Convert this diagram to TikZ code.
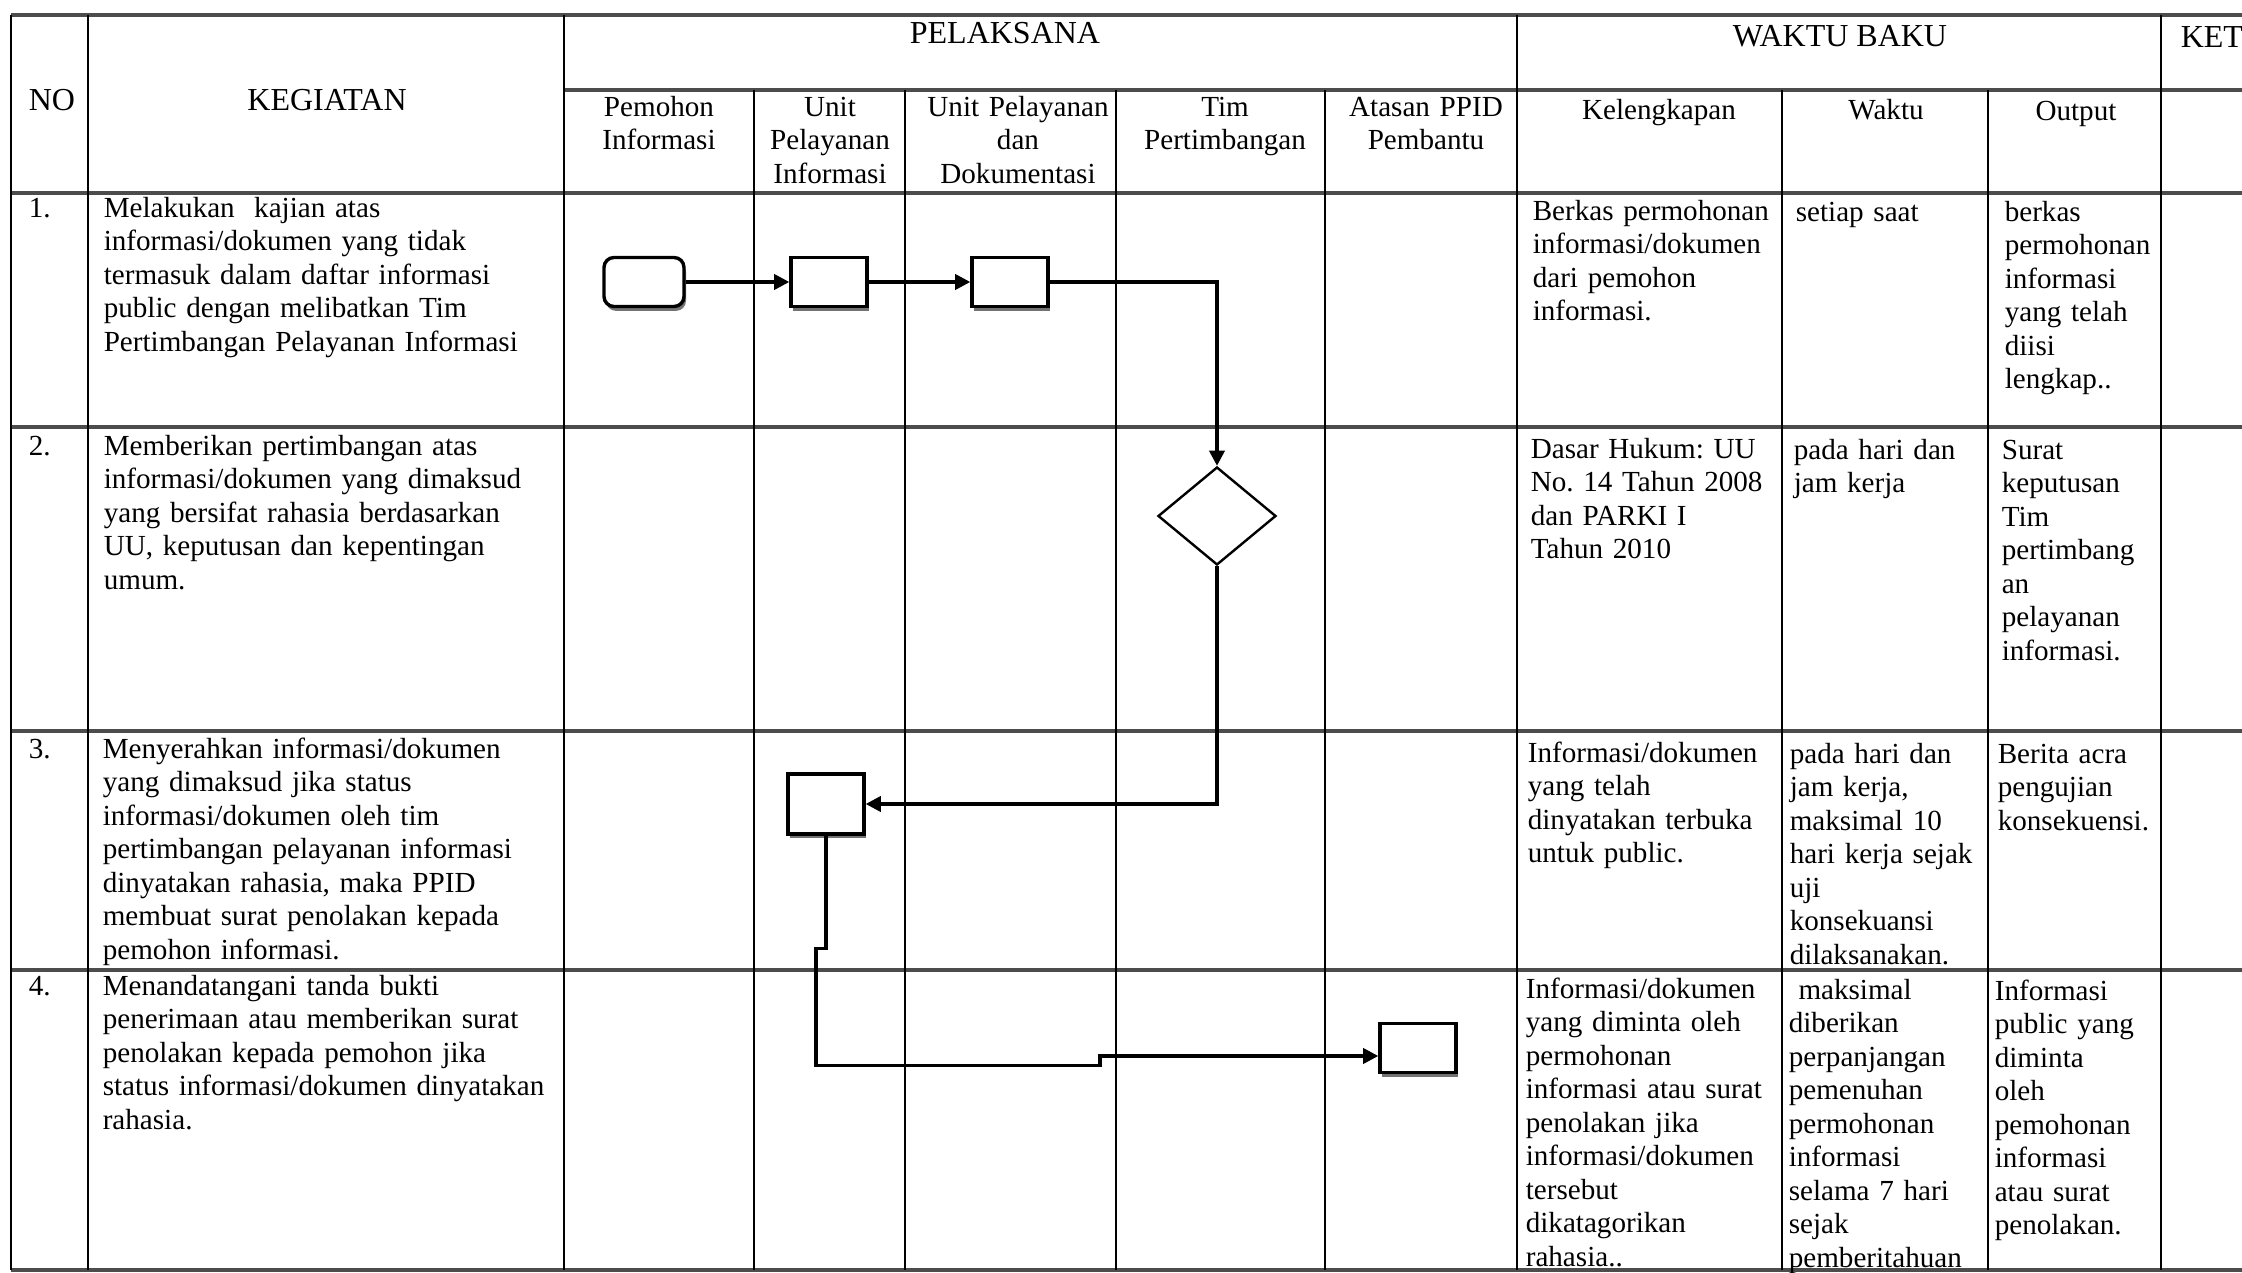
\documentclass[tikz,border=0pt]{standalone}
\usepackage{fontspec}
\setmainfont{Liberation Serif}
\frenchspacing
\usetikzlibrary{arrows.meta,shapes.geometric,shadows,calc}
\tikzset{
  vline/.style={line width=0.5pt, black},
  hline/.style={line width=0.8pt, black!70},
  hdr/.style={font=\fontsize{8}{9.6}\selectfont, inner sep=0pt, anchor=base},
  subh/.style={font=\fontsize{7.28}{8.375}\selectfont, align=center, inner sep=0pt, anchor=north, text width=52pt},
  cell/.style={font=\fontsize{7.28}{8.375}\selectfont, align=left, inner sep=0pt, anchor=north west, text width=125pt},
  shad/.style={drop shadow={shadow xshift=0.5pt, shadow yshift=-1.1pt, fill=black!55, opacity=1}},
  procbox/.style={draw, line width=0.85pt, fill=white, rectangle, minimum width=19pt, minimum height=12.25pt, inner sep=0pt, shad},
  startbox/.style={procbox, rounded corners=2.5pt, minimum width=20pt, minimum height=12.25pt},
  decision/.style={draw, diamond, line width=0.6pt, minimum width=29.5pt, minimum height=24.5pt, inner sep=0pt, fill=white},
  conn/.style={line width=0.85pt},
  arr/.style={conn, -{Triangle[length=3.8pt,width=3.8pt]}},
}
\begin{document}
\begin{tikzpicture}[x=0.25pt,y=-0.25pt]
\useasboundingbox (0,0) rectangle (2242,1273);
\fill[white] (0,0) rectangle (2242,1273);

% ---------- table grid ----------
\draw[hline] (11,15) -- (2242,15);
\draw[hline] (564,90) -- (2242,90);
\foreach \yy in {193,427,731,970,1270} \draw[hline] (11,\yy) -- (2242,\yy);
\foreach \xx in {11,88,564,1517,2161} \draw[vline] (\xx,15) -- (\xx,1270);
\foreach \xx in {754,905,1116,1325,1782,1988} \draw[vline] (\xx,90) -- (\xx,1270);

% ---------- headers ----------
\node[hdr] (hNO) at (52,111) {NO};
\node[hdr] (hKEG) at (327,111) {KEGIATAN};
\node[hdr] (hPEL) at (1005,44) {PELAKSANA};
\node[hdr] (hWB) at (1840,47) {WAKTU BAKU};
\node[hdr, anchor=base west] (hKET) at (2180,48) {KET};

\node[subh] (sPem) at (659,92) {\strut Pemohon\\Informasi};
\node[subh] (sUPI) at (830,92) {\strut Unit\\Pelayanan\\Informasi};
\node[subh, text width=60pt] (sUPD) at (1018,92) {\strut Unit Pelayanan\\dan\\Dokumentasi};
\node[subh, text width=60pt] (sTim) at (1225,92) {\strut Tim\\Pertimbangan};
\node[subh] (sAts) at (1426,92) {\strut Atasan PPID\\Pembantu};
\node[subh] (sKel) at (1659,95) {\strut Kelengkapan};
\node[subh] (sWkt) at (1886,95) {\strut Waktu};
\node[subh] (sOut) at (2076,96) {\strut Output};

% ---------- row 1 ----------
\node[cell] (n1) at (28,193) {\strut 1.};
\node[cell] (k1) at (103,193) {\strut Melakukan\ \ kajian atas\\informasi/dokumen yang tidak\\termasuk dalam daftar informasi\\public dengan melibatkan Tim\\Pertimbangan Pelayanan Informasi};
\node[cell] (l1) at (1532,196) {\strut Berkas permohonan\\informasi/dokumen\\dari pemohon\\informasi.};
\node[cell] (w1) at (1795,197) {\strut setiap saat};
\node[cell] (o1) at (2004,197) {\strut berkas\\permohonan\\informasi\\yang telah\\diisi\\lengkap..};

% ---------- row 2 ----------
\node[cell] (n2) at (28,431) {\strut 2.};
\node[cell] (k2) at (103,431) {\strut Memberikan pertimbangan atas\\informasi/dokumen yang dimaksud\\yang bersifat rahasia berdasarkan\\UU, keputusan dan kepentingan\\umum.};
\node[cell] (l2) at (1530,434) {\strut Dasar Hukum: UU\\No. 14 Tahun 2008\\dan PARKI I\\Tahun 2010};
\node[cell] (w2) at (1793,435) {\strut pada hari dan\\jam kerja};
\node[cell] (o2) at (2001,435) {\strut Surat\\keputusan\\Tim\\pertimbang\\an\\pelayanan\\informasi.};

% ---------- row 3 ----------
\node[cell] (n3) at (28,734) {\strut 3.};
\node[cell] (k3) at (102,734) {\strut Menyerahkan informasi/dokumen\\yang dimaksud jika status\\informasi/dokumen oleh tim\\pertimbangan pelayanan informasi\\dinyatakan rahasia, maka PPID\\membuat surat penolakan kepada\\pemohon informasi.};
\node[cell] (l3) at (1527,738) {\strut Informasi/dokumen\\yang telah\\dinyatakan terbuka\\untuk public.};
\node[cell] (w3) at (1789,739) {\strut pada hari dan\\jam kerja,\\maksimal 10\\hari kerja sejak\\uji\\konsekuansi\\dilaksanakan.};
\node[cell] (o3) at (1997,739) {\strut Berita acra\\pengujian\\konsekuensi.};

% ---------- row 4 ----------
\node[cell] (n4) at (28,971) {\strut 4.};
\node[cell] (k4) at (102,971) {\strut Menandatangani tanda bukti\\penerimaan atau memberikan surat\\penolakan kepada pemohon jika\\status informasi/dokumen dinyatakan\\rahasia.};
\node[cell] (l4) at (1525,974) {\strut Informasi/dokumen\\yang diminta oleh\\permohonan\\informasi atau surat\\penolakan jika\\informasi/dokumen\\tersebut\\dikatagorikan\\rahasia..};
\node[cell] (w4) at (1788,975) {\strut \ maksimal\\diberikan\\perpanjangan\\pemenuhan\\permohonan\\informasi\\selama 7 hari\\sejak\\pemberitahuan};
\node[cell] (o4) at (1994,976) {\strut Informasi\\public yang\\diminta\\oleh\\pemohonan\\informasi\\atau surat\\penolakan.};

% ---------- flow chart ----------
\node[startbox] (st) at (644,282) {};
\node[procbox] (u2) at (829,282) {};
\node[procbox] (u3) at (1010,282) {};
\node[decision] (dc) at (1217,516) {};
\node[procbox, minimum height=15pt] (r3) at (826,804) {};
\node[procbox] (r4) at (1418,1048) {};

\draw[arr] (st.east) -- (u2.west);
\draw[arr] (u2.east) -- (u3.west);
\draw[arr] (u3.east) -| (dc.north);
\draw[arr] (dc.south) |- (r3.east);
\coordinate (jog) at (1100,1056);
\draw[arr] (r3.south) -- ++(0,113) -- ++(-10,0) -- ++(0,117) -| (jog) -- (jog -| r4.west);
\end{tikzpicture}
\end{document}
